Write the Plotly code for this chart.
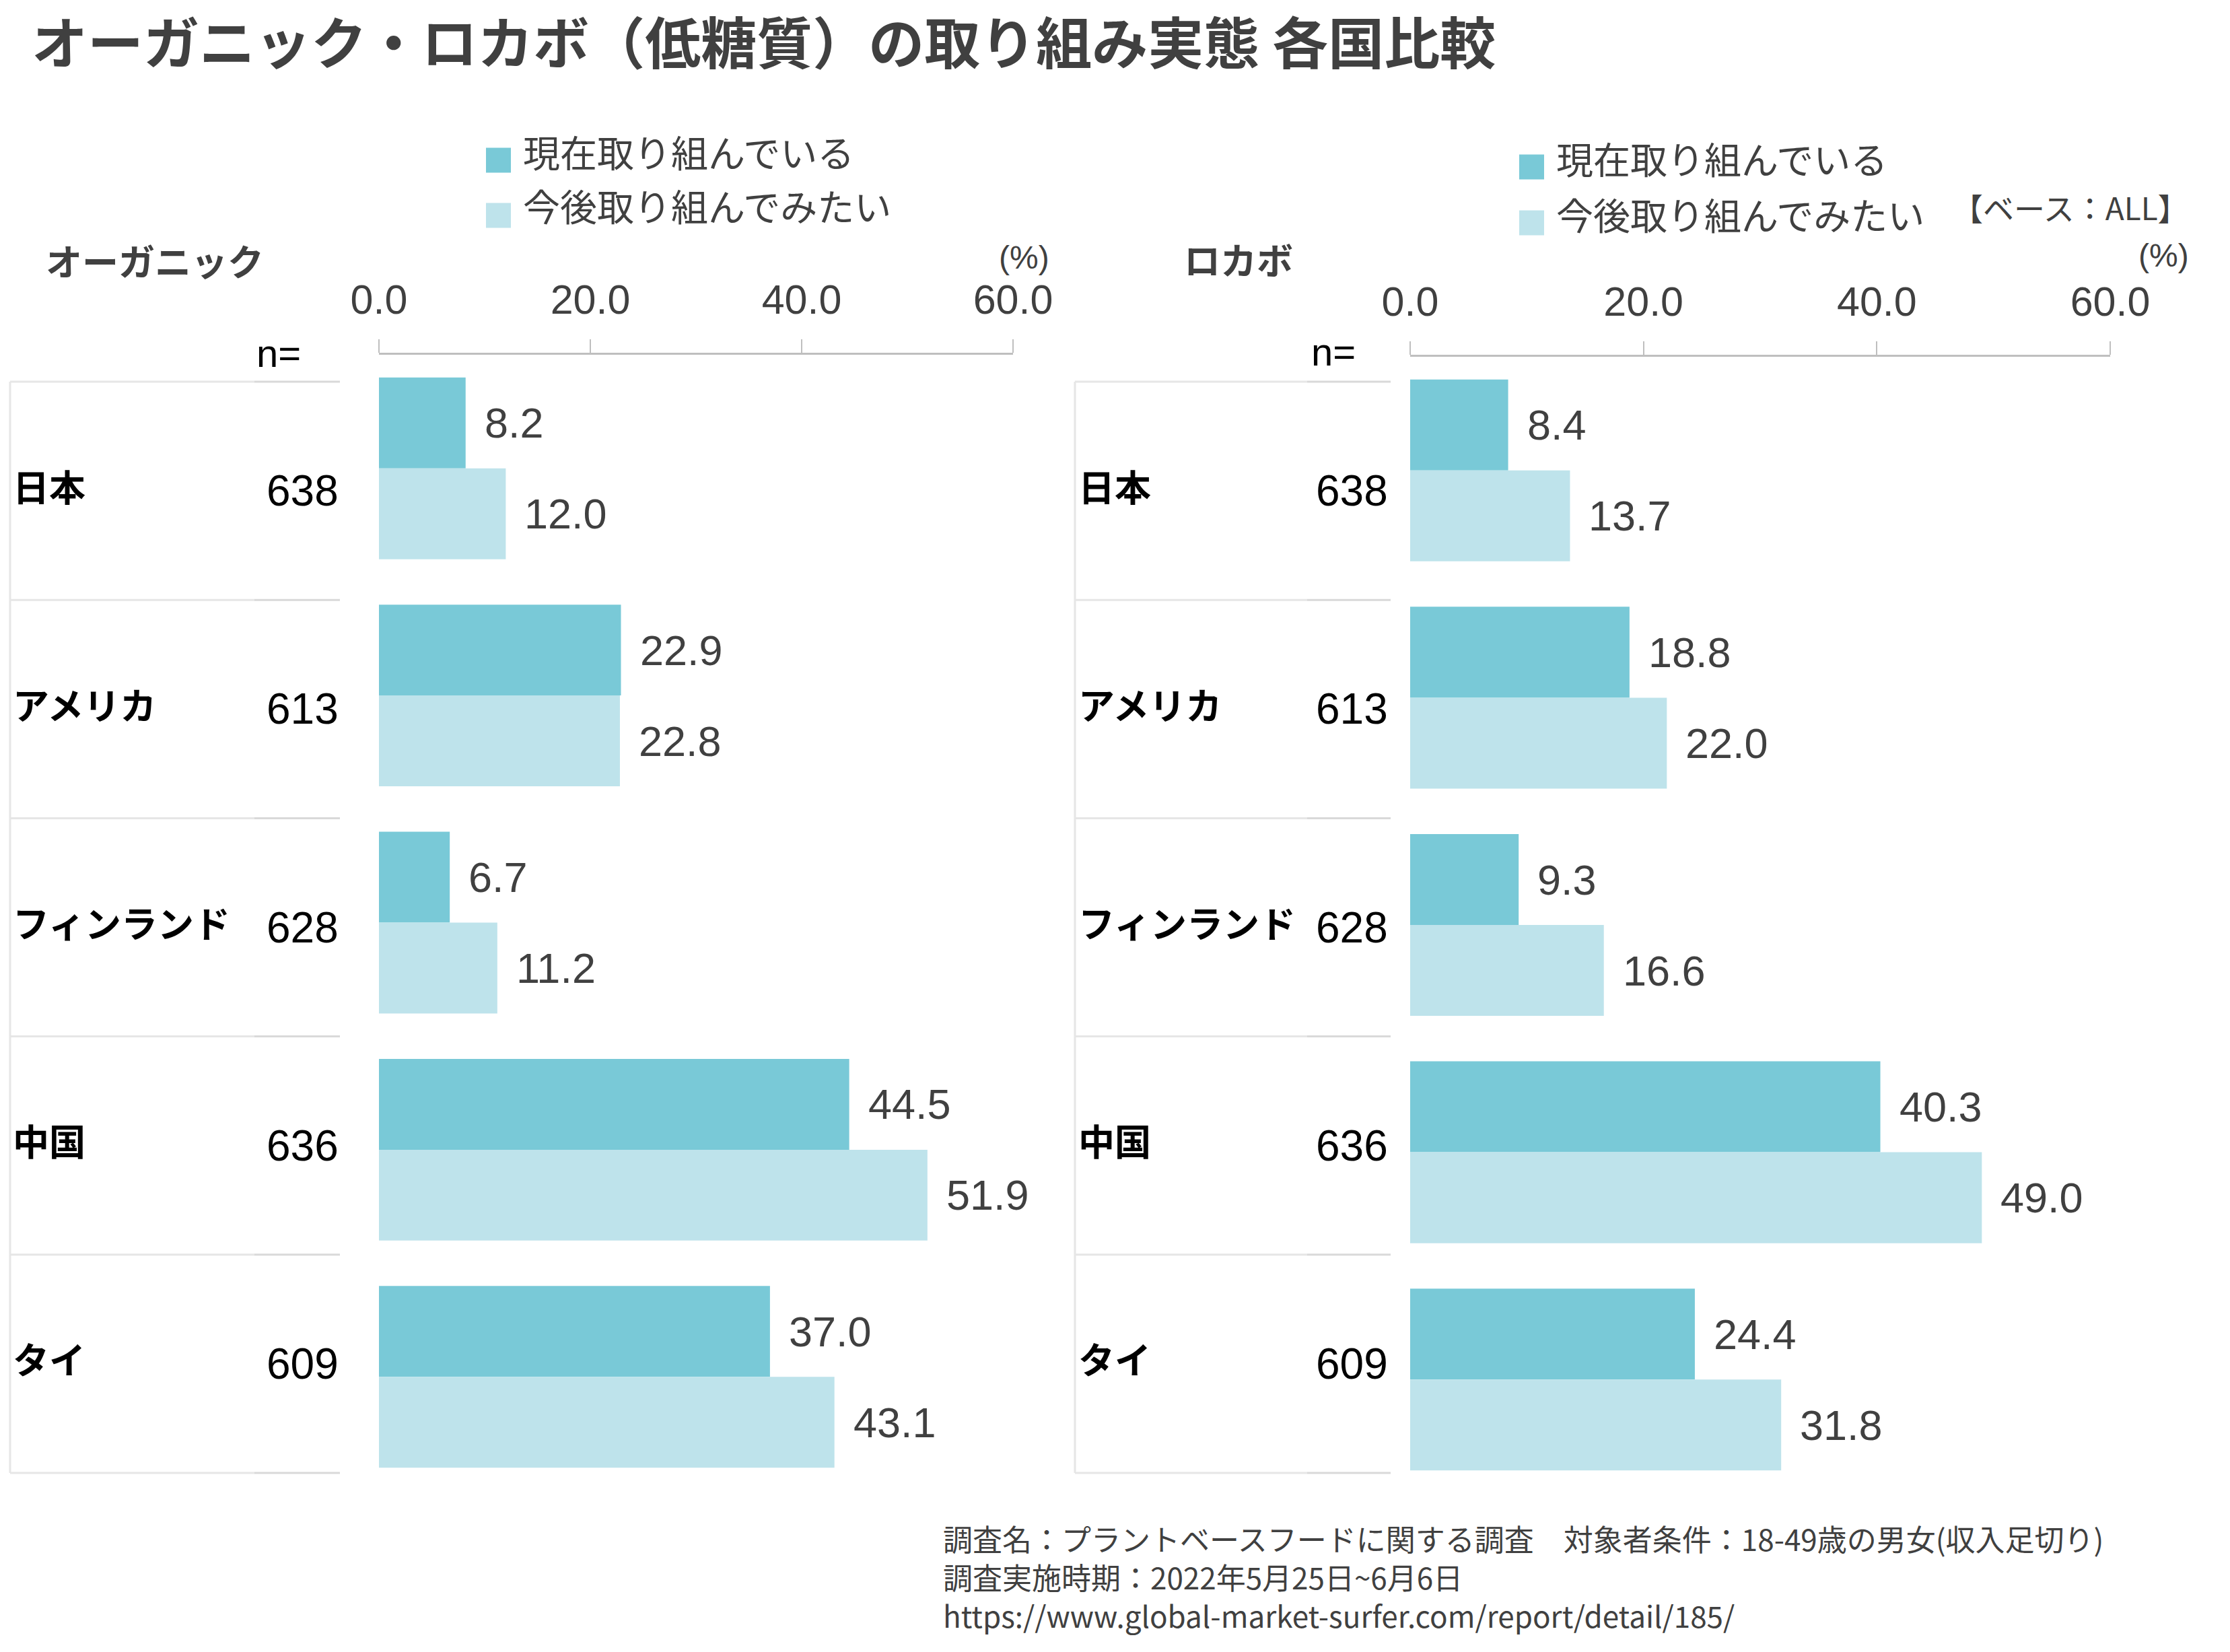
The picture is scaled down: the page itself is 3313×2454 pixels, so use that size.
import plotly.graph_objects as go

# ---------------- data ----------------
countries = ["日本", "アメリカ", "フィンランド", "中国", "タイ"]
n_values = [638, 613, 628, 636, 609]
series_names = ["現在取り組んでいる", "今後取り組んでみたい"]
organic_current = [8.2, 22.9, 6.7, 44.5, 37.0]
organic_future = [12.0, 22.8, 11.2, 51.9, 43.1]
locabo_current = [8.4, 18.8, 9.3, 40.3, 24.4]
locabo_future = [13.7, 22.0, 16.6, 49.0, 31.8]
x_ticks = [0, 20, 40, 60]
panel_titles = ["オーガニック", "ロカボ"]
title_text = "オーガニック・ロカボ（低糖質）の取り組み実態 各国比較"
base_text = "【ベース：ALL】"
unit_text = "(%)"
n_label = "n="
footer_lines = [
    "調査名：プラントベースフードに関する調査　対象者条件：18-49歳の男女(収入足切り)",
    "調査実施時期：2022年5月25日~6月6日",
    "https://www.global-market-surfer.com/report/detail/185/",
]

# ---------------- styles ----------------
W, H = 3313, 2454
DARK = "#79C9D7"
LIGHT = "#BEE3EB"
TXT = "#404040"
AXIS_COL = "#BFBFBF"
TABLE_COL = "#E6E6E6"
TABLE_COL2 = "#D9D9D9"
LATIN = "Liberation Sans, Arial, Noto Sans CJK JP"
CJK = "Noto Sans CJK JP, Noto Sans, sans-serif"


def px(x):
    return x / W


def py(y):
    return 1 - y / H


fig = go.Figure()

panels = [
    dict(cur=organic_current, fut=organic_future, xa="x", ya="y"),
    dict(cur=locabo_current, fut=locabo_future, xa="x2", ya="y2"),
]
for p in panels:
    fig.add_trace(go.Bar(x=p["cur"], y=countries, orientation="h", name=series_names[0],
                         marker=dict(color=DARK, line=dict(width=0)),
                         xaxis=p["xa"], yaxis=p["ya"], showlegend=False))
    fig.add_trace(go.Bar(x=p["fut"], y=countries, orientation="h", name=series_names[1],
                         marker=dict(color=LIGHT, line=dict(width=0)),
                         xaxis=p["xa"], yaxis=p["ya"], showlegend=False))

annotations = []
BAR_SHIFT = 67.5
for p in panels:
    for vals, shift in ((p["cur"], BAR_SHIFT), (p["fut"], -BAR_SHIFT)):
        for c, v in zip(countries, vals):
            annotations.append(dict(x=v, y=c, xref=p["xa"], yref=p["ya"], text=f"{v:.1f}",
                                    showarrow=False, xanchor="left", yanchor="middle",
                                    xshift=26, yshift=shift,
                                    font=dict(family=LATIN, size=63, color=TXT)))

axis_common = dict(range=[0, 60], side="top", tickvals=x_ticks, tickformat=".1f",
                   showline=True, linecolor=AXIS_COL, linewidth=3,
                   ticks="outside", ticklen=20, tickwidth=2, tickcolor=AXIS_COL,
                   showgrid=False, zeroline=False, ticklabelstandoff=14, automargin=False,
                   tickfont=dict(family=LATIN, size=61, color=TXT))
yaxis_common = dict(type="category", autorange="reversed", showticklabels=False,
                    showline=False, showgrid=False, zeroline=False, ticks="", automargin=False)

fig.update_layout(
    width=W, height=H, margin=dict(l=0, r=0, t=0, b=0, pad=0, autoexpand=False),
    paper_bgcolor="white", plot_bgcolor="white",
    barmode="group", bargap=0.2, bargroupgap=0, showlegend=False,
    xaxis=dict(domain=[px(563), px(1505)], anchor="y", **axis_common),
    yaxis=dict(domain=[py(2214), py(527)], anchor="x", **yaxis_common),
    xaxis2=dict(domain=[px(2095), px(3135)], anchor="y2", **axis_common),
    yaxis2=dict(domain=[py(2218), py(530)], anchor="x2", **yaxis_common),
)

shapes = []

tables = [
    dict(x0=15, xm=378, x1=505, lab_x=17, n_x=505, nlab_x=449, nlab_y=524,
         title_x=66, title_y=386, unit_x=1561, unit_y=383,
         leg_x=722, leg_y=[238, 320], leg_ty=[224, 304]),
    dict(x0=1597, xm=1942, x1=2066, lab_x=1600, n_x=2064, nlab_x=2016, nlab_y=522,
         title_x=1757, title_y=384, unit_x=3254, unit_y=380,
         leg_x=2257, leg_y=[248, 331], leg_ty=[234, 317]),
]
ROW_TOP, ROW_H = 567, 324.2
for t in tables:
    for i in range(len(countries) + 1):
        yy = py(ROW_TOP + i * ROW_H)
        shapes.append(dict(type="line", xref="paper", yref="paper", x0=px(t["x0"]), x1=px(t["xm"]),
                           y0=yy, y1=yy, line=dict(color=TABLE_COL, width=3), layer="below"))
        shapes.append(dict(type="line", xref="paper", yref="paper", x0=px(t["xm"]), x1=px(t["x1"]),
                           y0=yy, y1=yy, line=dict(color=TABLE_COL2, width=3), layer="below"))
    shapes.append(dict(type="line", xref="paper", yref="paper", x0=px(t["x0"]), x1=px(t["x0"]),
                       y0=py(ROW_TOP), y1=py(ROW_TOP + len(countries) * ROW_H),
                       line=dict(color=TABLE_COL, width=3), layer="below"))
    for i, (c, n) in enumerate(zip(countries, n_values)):
        yc = py(ROW_TOP + (i + 0.5) * ROW_H)
        annotations.append(dict(x=px(t["lab_x"]), y=yc, xref="paper", yref="paper", text=f"<b>{c}</b>",
                                showarrow=False, xanchor="left", yanchor="middle", yshift=8,
                                font=dict(family=CJK, size=54, color="#000000")))
        annotations.append(dict(x=px(t["n_x"]), y=yc, xref="paper", yref="paper", text=str(n),
                                showarrow=False, xanchor="right", yanchor="middle",
                                font=dict(family=LATIN, size=64, color="#000000")))
    annotations.append(dict(x=px(t["nlab_x"]), y=py(t["nlab_y"]), xref="paper", yref="paper", text=n_label,
                            showarrow=False, xanchor="right", yanchor="middle",
                            font=dict(family=LATIN, size=58, color="#000000")))
    annotations.append(dict(x=px(t["unit_x"]), y=py(t["unit_y"]), xref="paper", yref="paper", text=unit_text,
                            showarrow=False, xanchor="right", yanchor="middle",
                            font=dict(family=LATIN, size=48, color=TXT)))
    # manual legend
    for k, col in enumerate([DARK, LIGHT]):
        cy = t["leg_y"][k]
        shapes.append(dict(type="rect", xref="paper", yref="paper", x0=px(t["leg_x"]), x1=px(t["leg_x"] + 37),
                           y0=py(cy + 18.5), y1=py(cy - 18.5), line=dict(width=0), fillcolor=col))
        annotations.append(dict(x=px(t["leg_x"] + 53), y=py(t["leg_ty"][k]), xref="paper", yref="paper",
                                text=series_names[k], showarrow=False, xanchor="left", yanchor="middle",
                                font=dict(family=CJK, size=55, color=TXT)))

for t, name in zip(tables, panel_titles):
    annotations.append(dict(x=px(t["title_x"]), y=py(t["title_y"]), xref="paper", yref="paper",
                            text=f"<b>{name}</b>", showarrow=False, xanchor="left", yanchor="middle",
                            font=dict(family=CJK, size=54, color=TXT)))

annotations.append(dict(x=px(46), y=py(59), xref="paper", yref="paper", text=f"<b>{title_text}</b>",
                        showarrow=False, xanchor="left", yanchor="middle", borderpad=0,
                        font=dict(family=CJK, size=83, color=TXT)))
annotations.append(dict(x=px(3254), y=py(307), xref="paper", yref="paper", text=base_text,
                        showarrow=False, xanchor="right", yanchor="middle",
                        font=dict(family=CJK, size=46, color=TXT)))
annotations.append(dict(x=px(1400), y=py(2342), xref="paper", yref="paper", text="<br>".join(footer_lines),
                        showarrow=False, xanchor="left", yanchor="middle", align="left", borderpad=0,
                        font=dict(family=CJK, size=44, color=TXT)))

fig.update_layout(shapes=shapes, annotations=annotations)
fig.write_html("out.html")
